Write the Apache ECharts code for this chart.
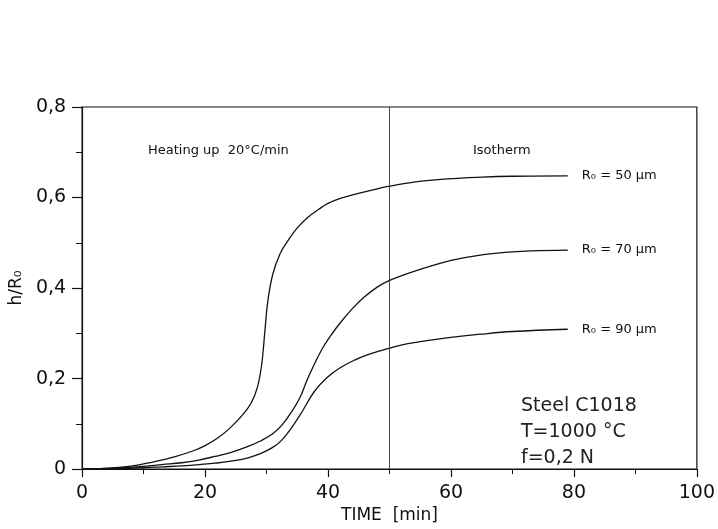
<!DOCTYPE html>
<html>
<head>
<meta charset="utf-8">
<script src="https://cdn.jsdelivr.net/npm/echarts@6/dist/echarts.min.js"></script>
<style>html,body{margin:0;padding:0;background:#fff}#c{width:718px;height:529px}</style>
</head>
<body>
<div id="c"></div>
<script>
// time [min], h/R0
const r50 = [[0,0],[3,0.001],[6,0.004],[9,0.009],[12,0.017],[15,0.027],[18,0.04],[20,0.052],[22,0.068],[24,0.09],[26,0.118],[27.5,0.146],[28.5,0.18],[29.2,0.23],[29.7,0.30],[30.2,0.37],[31,0.43],[32.2,0.476],[33.5,0.505],[35,0.533],[36.7,0.556],[38.5,0.574],[40,0.587],[42,0.598],[44.3,0.607],[47,0.616],[50,0.625],[54,0.634],[59.4,0.641],[65,0.645],[70,0.647],[79,0.648]];
const r70 = [[0,0],[5,0.002],[10,0.006],[13,0.01],[16.2,0.014],[19,0.02],[21.6,0.028],[24.5,0.038],[27,0.05],[29,0.062],[31,0.078],[32.5,0.097],[34,0.125],[35.5,0.16],[36.7,0.2],[38.9,0.262],[40.5,0.296],[42.1,0.325],[44,0.355],[45.9,0.38],[48,0.402],[50.2,0.418],[54,0.437],[59.4,0.459],[63,0.469],[67.5,0.477],[73,0.482],[79,0.484]];
const r90 = [[0,0],[5,0.001],[10,0.003],[13,0.005],[16.2,0.007],[19,0.01],[21.6,0.013],[24.5,0.018],[27,0.025],[29,0.034],[31,0.048],[32.4,0.063],[34,0.09],[35.7,0.125],[37.8,0.172],[40,0.204],[42.1,0.225],[44.5,0.242],[46.5,0.253],[48.6,0.262],[50.2,0.268],[53,0.277],[56.7,0.285],[60,0.291],[64.8,0.298],[70,0.304],[79,0.309]];
const seriesNames = ['R₀ = 50 µm','R₀ = 70 µm','R₀ = 90 µm'];
const phaseBoundary = 50;
const yTickLabels = {0:'0',0.2:'0,2',0.4:'0,4',0.6:'0,6',0.8:'0,8'};

const chart = echarts.init(document.getElementById('c'), null, {renderer:'canvas'});
const FONT = 'DejaVu Sans';
function lineSeries(name, data, extra){
  return Object.assign({
    name, type:'line', data, smooth:0.4, showSymbol:false, symbol:'none',
    lineStyle:{color:'#111', width:1.3},
    endLabel:{show:true, formatter:name, color:'#111', fontFamily:FONT, fontSize:13, distance:14},
    animation:false
  }, extra||{});
}
chart.setOption({
  animation:false,
  grid:{left:81, right:21, top:107, bottom:53, show:true, borderColor:'#111', borderWidth:1.2, backgroundColor:'transparent'},
  xAxis:{
    type:'value', min:0, max:100, interval:20,
    name:'TIME  [min]', nameLocation:'middle', nameGap:32,
    nameTextStyle:{fontFamily:FONT, fontSize:17, color:'#111'},
    axisLine:{show:true, onZero:false, lineStyle:{color:'#111', width:1.2}},
    axisTick:{show:true, inside:false, length:8, lineStyle:{color:'#111', width:1.2}},
    minorTick:{show:true, splitNumber:2, length:5, lineStyle:{color:'#111', width:1}},
    axisLabel:{fontFamily:FONT, fontSize:19, color:'#111', margin:14},
    splitLine:{show:false}
  },
  yAxis:{
    type:'value', min:0, max:0.8, interval:0.2,
    name:'h/R₀', nameLocation:'middle', nameGap:55, nameRotate:90,
    nameTextStyle:{fontFamily:FONT, fontSize:17, color:'#111'},
    axisLine:{show:true, onZero:false, lineStyle:{color:'#111', width:1.2}},
    axisTick:{show:true, inside:false, length:10, lineStyle:{color:'#111', width:1.2}},
    minorTick:{show:true, splitNumber:2, length:6, lineStyle:{color:'#111', width:1}},
    axisLabel:{fontFamily:FONT, fontSize:19, color:'#111', margin:16,
      formatter:v=>yTickLabels[Math.round(v*10)/10] ?? String(v).replace('.',',')},
    splitLine:{show:false}
  },
  series:[
    lineSeries(seriesNames[0], r50, {
      markLine:{silent:true, symbol:'none', label:{show:false},
        lineStyle:{color:'#333', width:0.9, type:'solid'},
        data:[{xAxis:phaseBoundary}]}
    }),
    lineSeries(seriesNames[1], r70),
    lineSeries(seriesNames[2], r90)
  ],
  graphic:[
    {type:'text', left:148, top:144, style:{text:'Heating up  20°C/min', font:'13px "DejaVu Sans"', fill:'#111'}},
    {type:'text', left:473, top:144, style:{text:'Isotherm', font:'13px "DejaVu Sans"', fill:'#111'}},
    {type:'text', left:521, top:393, style:{text:'Steel C1018\nT=1000 °C\nf=0,2 N', font:'19px "DejaVu Sans"', lineHeight:26, fill:'#222'}}
  ]
});
</script>
</body>
</html>
